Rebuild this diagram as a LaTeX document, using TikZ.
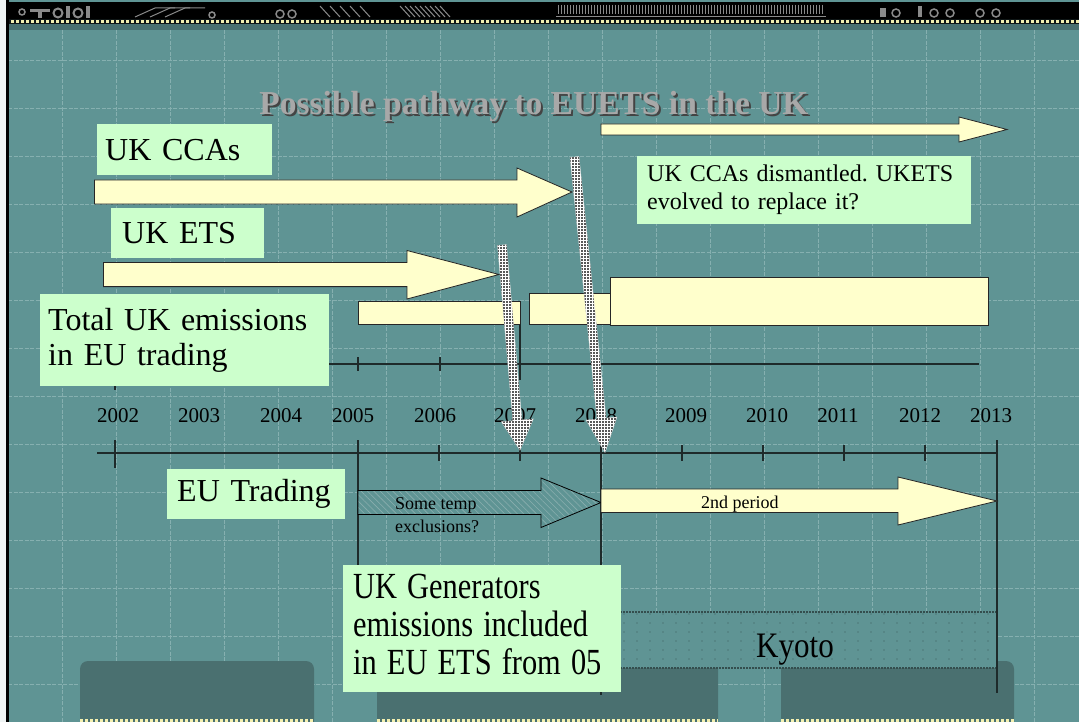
\documentclass[tikz,border=0pt]{standalone}
\usepackage{fontspec}
\setmainfont{Liberation Serif}
\usetikzlibrary{patterns,patterns.meta}
\frenchspacing
\definecolor{bg}{HTML}{5F9494}
\definecolor{gridc}{HTML}{86B0B0}
\definecolor{darkteal}{HTML}{4A7070}
\definecolor{yfill}{HTML}{FFFFCC}
\definecolor{gfill}{HTML}{CCFFCC}
\definecolor{titlec}{HTML}{A8A8A8}
\definecolor{shadowc}{HTML}{444444}
\definecolor{stripy}{HTML}{F4F0B0}
\definecolor{hatchc}{HTML}{8AAEAE}
\definecolor{axisc}{HTML}{1E2A2A}
\definecolor{bannerg}{HTML}{8A8A8A}
\pgfdeclarepatternformonly{sparsedots}{\pgfqpoint{-1pt}{-1pt}}{\pgfqpoint{1pt}{1pt}}{\pgfqpoint{13pt}{9pt}}{\pgfpathcircle{\pgfqpoint{0pt}{0pt}}{0.7pt}\pgfusepath{fill}}
\pgfdeclarepatternformonly{densedots}{\pgfqpoint{-1.5pt}{-1.5pt}}{\pgfqpoint{1.5pt}{1.5pt}}{\pgfqpoint{3pt}{3pt}}{\pgfpathrectangle{\pgfqpoint{-0.7pt}{-0.7pt}}{\pgfqpoint{1.4pt}{1.4pt}}\pgfusepath{fill}}
\newcommand\fbig{\fontsize{32}{36}\selectfont}
\newcommand\fmid{\fontsize{24}{28}\selectfont}
\newcommand\fsml{\fontsize{18}{23}\selectfont}
\newcommand\fyear{\fontsize{21}{24}\selectfont}
\newcommand\ftitle{\fontsize{33.5}{38}\selectfont\bfseries}
\tikzset{
  gbox/.style={fill=gfill, inner ysep=0pt, anchor=north west, align=left, font=\fbig},
  yarrow/.style={fill=yfill, draw=black!85, line width=0.8pt},
  axisline/.style={draw=axisc, line width=1.1pt},
  gridl/.style={draw=gridc, line width=0.6pt, dash pattern=on 4pt off 1.5pt},
  dotarrow/.style={fill=white, draw=white!85!black, line width=0.4pt},
  dotfill/.style={pattern=densedots, pattern color=black!65},
  bottombox/.style={fill=darkteal, rounded corners=8pt},
  ystrip/.style={draw=stripy, line width=3pt, dash pattern=on 3pt off 2pt}
}
\begin{document}
\begin{tikzpicture}[x=1pt,y=-1pt]
\useasboundingbox (0,0) rectangle (1079,722);
\fill[bg] (0,0) rectangle (1079,722);
% grid
\foreach \gx in {62,116,...,1034} \draw[gridl] (\gx,30) -- (\gx,722);
\foreach \gy in {60,108,...,708} \draw[gridl] (8,\gy) -- (1079,\gy);
% banner
\fill[black] (6,2) rectangle (1079,19);
\fill[black!80!darkteal] (6,19) rectangle (1079,24);
\draw[ystrip] (6,21.5) -- (1079,21.5);
\fill[darkteal] (6,24) rectangle (1079,30);
\draw[bannerg, line width=1.5pt] (22,12) circle (3);
\fill[bannerg] (30,9) rectangle (50,12);
\fill[bannerg] (38,9) rectangle (42,18);
\draw[bannerg, line width=2pt] (58,13) circle (4.5);
\fill[bannerg] (66,6) rectangle (70,18);
\draw[bannerg, line width=2pt] (78,13) circle (4.5);
\fill[bannerg] (86,6) rectangle (90,18);
\foreach \bx in {135,150,165} \draw[bannerg, line width=1pt] (\bx,17) -- (\bx+20,8) -- (\bx+40,8);
\draw[bannerg, line width=1.5pt] (212,15) circle (3);
\draw[bannerg, line width=1.5pt] (280,14) circle (4);
\draw[bannerg, line width=1.5pt] (292,14) circle (4);
\foreach \bx in {320,330,...,360} \draw[bannerg, line width=1pt] (\bx,6) -- (\bx+10,17);
\foreach \bx in {400,405,...,440} \draw[bannerg, line width=1pt] (\bx,6) -- (\bx+10,17);
\foreach \bx in {558,561,...,824} \draw[bannerg, line width=1pt] (\bx,5) -- (\bx,14);
\draw[bannerg, line width=1pt] (556,17) -- (826,17);
\fill[bannerg] (880,8) rectangle (886,17);
\draw[bannerg, line width=1.5pt] (896,13) circle (4);
\fill[bannerg] (918,6) rectangle (922,17);
\draw[bannerg, line width=1.5pt] (934,13) circle (4);
\draw[bannerg, line width=1.5pt] (950,13) circle (4);
\draw[bannerg, line width=1.5pt] (980,13) circle (4);
\draw[bannerg, line width=1.5pt] (996,13) circle (4);
% left border
\fill[white!90!bg] (0,0) rectangle (6,722);
\draw[black, line width=2.5pt] (7.5,0) -- (7.5,722);
% bottom boxes
\begin{scope}
\clip (0,0) rectangle (1079,722);
\fill[bottombox] (80,661) rectangle (314,740);
\fill[bottombox] (377,661) rectangle (718,740);
\fill[bottombox] (781,661) rectangle (1014,740);
\draw[ystrip] (80,720.5) -- (314,720.5);
\draw[ystrip] (377,720.5) -- (718,720.5);
\draw[ystrip] (781,720.5) -- (1014,720.5);
\end{scope}
% Kyoto band
\fill[bg] (602,612) rectangle (997,668);
\fill[pattern=sparsedots, pattern color=darkteal!80!black] (602,612) rectangle (997,668);
\draw[darkteal!70!black, line width=2pt, densely dotted] (602,612) -- (997,612);
\draw[darkteal!70!black, line width=2pt, densely dotted] (602,668) -- (997,668);
\node[font=\fbig, anchor=base] (kyoto) at (795,657) {\scalebox{0.97}[1.12]{Kyoto}};
% axes
\draw[axisline] (115,364) -- (979,364);
\draw[axisline] (115,340) -- (115,390);
\draw[axisline] (358,357) -- (358,371);
\draw[axisline] (440,357) -- (440,371);
\draw[axisline] (97,453) -- (997,453);
\draw[axisline] (115,440) -- (115,468);
\foreach \tx in {439,520,682,763,844,925} \draw[axisline] (\tx,445) -- (\tx,461);
\draw[axisline] (358,440) -- (358,600);
\draw[axisline] (601,440) -- (601,695);
\draw[axisline] (997,440) -- (997,693);
% yellow arrows
\draw[yarrow] (601,124) -- (959,124) -- (959,117) -- (1007,129.5) -- (959,142) -- (959,135) -- (601,135) -- cycle;
\draw[yarrow] (94.5,180) -- (517,180) -- (517,168) -- (572,192) -- (517,217) -- (517,204) -- (94.5,204) -- cycle;
\draw[yarrow] (103.4,262.5) -- (407,262.5) -- (407,250.5) -- (499,274.5) -- (407,299) -- (407,286.6) -- (103.4,286.6) -- cycle;
\draw[yarrow] (358,301) rectangle (520,324);
\draw[axisline] (520,324) -- (520,380);
\draw[yarrow] (529,293) rectangle (610,324);
\draw[yarrow] (610,277) rectangle (988,325);
% lower arrows
\fill[bg] (358,490.5) -- (541,490.5) -- (541,478) -- (601,502.5) -- (541,527.5) -- (541,514.5) -- (358,514.5) -- cycle;
\fill[pattern={Lines[angle=-45,distance=4.5pt,line width=0.6pt]}, pattern color=hatchc] (358,490.5) -- (541,490.5) -- (541,478) -- (601,502.5) -- (541,527.5) -- (541,514.5) -- (358,514.5) -- cycle;
\draw[black, line width=0.8pt] (358,490.5) -- (541,490.5) -- (541,478) -- (601,502.5) -- (541,527.5) -- (541,514.5) -- (358,514.5) -- cycle;
\draw[yarrow] (601,489) -- (898,489) -- (898,477) -- (997,501) -- (898,525) -- (898,512.5) -- (601,512.5) -- cycle;
\node[font=\fsml, anchor=base west, inner sep=0pt] (tempa) at (395,509) {Some temp};
\node[font=\fsml, anchor=base west, inner sep=0pt] (tempb) at (395,532) {exclusions?};
\node[font=\fsml, anchor=base west, inner sep=0pt] (second) at (701,508) {2nd period};
% green boxes
\node[gbox, minimum width=175pt, minimum height=51pt, text width=159pt, inner xsep=8pt] (ccas) at (97,124) {UK CCAs};
\node[gbox, minimum width=152.5pt, minimum height=50pt, text width=130.5pt, inner xsep=11pt] (ukets) at (111,208) {UK ETS};
\node[gbox, minimum width=289pt, minimum height=92pt, text width=273pt, inner xsep=8pt, font=\fontsize{32}{35}\selectfont] (total) at (40,294) {Total UK emissions\\in EU trading};
\node[gbox, minimum width=334pt, minimum height=68pt, text width=314pt, inner xsep=10pt, font=\fmid] (dismantled) at (637,156) {UK CCAs dismantled. UKETS\\evolved to replace it?};
\node[gbox, minimum width=177.5pt, minimum height=50pt, text width=157.5pt, inner xsep=10pt] (eutrading) at (167,469) {EU Trading};
\node[gbox, minimum width=278pt, minimum height=127pt, text width=258pt, inner xsep=10pt, font=\fontsize{32}{33}\selectfont] (generators) at (343,565) {\scalebox{0.95}[1.15]{\begin{tabular}{@{}l@{}}UK Generators\\emissions included\\in EU ETS from 05\end{tabular}}};
% years
\foreach \yr/\xx in {2002/118,2003/199,2004/281,2005/353,2006/435,2007/515,2008/596,2009/686,2010/767,2011/838,2012/920,2013/991}
  \node[font=\fyear, anchor=base, inner sep=0pt] (y\yr) at (\xx,422) {\yr};
% dotted down arrows
\begin{scope}[shift={(502,245)}, rotate=5]
\fill[dotarrow] (-4.5,0) -- (4.5,0) -- (4.5,176) -- (16,176) -- (0,206) -- (-16,176) -- (-4.5,176) -- cycle;
\fill[dotfill] (-4.5,0) -- (4.5,0) -- (4.5,176) -- (16,176) -- (0,206) -- (-16,176) -- (-4.5,176) -- cycle;
\end{scope}
\begin{scope}[shift={(574.5,157)}, rotate=5.9]
\fill[dotarrow] (-4.5,0) -- (4.5,0) -- (4.5,263) -- (15.5,263) -- (0,297) -- (-15.5,263) -- (-4.5,263) -- cycle;
\fill[dotfill] (-4.5,0) -- (4.5,0) -- (4.5,263) -- (15.5,263) -- (0,297) -- (-15.5,263) -- (-4.5,263) -- cycle;
\end{scope}
% title
\node[font=\ftitle, text=shadowc, anchor=base] (titleshadow) at (536,117) {Possible pathway to EUETS in the UK};
\node[font=\ftitle, text=titlec, anchor=base] (title) at (534,115) {Possible pathway to EUETS in the UK};
\end{tikzpicture}
\end{document}
